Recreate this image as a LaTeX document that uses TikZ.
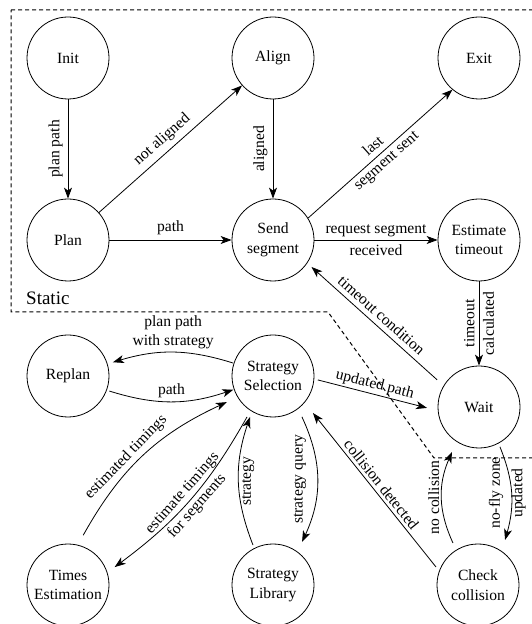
\documentclass[tikz,border=0pt]{standalone}
\usepackage{fontspec}
\setmainfont{Liberation Serif}
\usetikzlibrary{arrows.meta,calc}
\newcommand\labfont{\fontsize{15.6}{19.5}\selectfont}
\newcommand\statfont{\fontsize{19}{22}\selectfont}
\tikzset{
  state/.style={circle, draw, line width=0.8pt, minimum size=82pt, inner sep=0pt,
                align=center, font=\labfont},
  arr/.style={-{Stealth[length=11pt,width=8pt,inset=3pt]}, line width=0.8pt},
  lab/.style={font=\labfont, inner sep=5pt},
  pair/.style={font=\labfont, inner sep=3pt, align=center},
  region/.style={line width=1pt, dash pattern=on 4pt off 3pt},
}
\begin{document}
\begin{tikzpicture}[x=1pt,y=1pt]
\useasboundingbox (0,0) rectangle (532,624);

% static part of the state machine
\begin{scope}
  \clip (0,0) rectangle (532,624);
  \draw[region] (11,614) -- (545,614) -- (545,166) -- (434,166) -- (328,312)
                -- (11,312) -- cycle;
\end{scope}
\node[anchor=base west, font=\statfont, inner sep=0pt] (static) at (26,319) {Static};

% states
\node[state] (init)   at (68,566)  {Init};
\node[state] (align)  at (273,566) {Align};
\node[state] (exit)   at (479,566) {Exit};
\node[state] (plan)   at (68,384)  {Plan};
\node[state] (send)   at (273,384) {Send\\segment};
\node[state] (est)    at (479,384) {Estimate\\timeout};
\node[state] (replan) at (68,248)  {Replan};
\node[state] (ss)     at (273,248) {Strategy\\Selection};
\node[state] (wait)   at (479,217) {Wait};
\node[state] (times)  at (68,39)   {Times\\Estimation};
\node[state] (lib)    at (273,39)  {Strategy\\Library};
\node[state] (cc)     at (478,39)  {Check\\collision};

% transitions
\draw[arr] (init) -- node[lab, rotate=90, anchor=south] {plan path} (plan);
\draw[arr] (plan) -- node[lab, sloped, above] {not aligned} (align);
\draw[arr] (align) -- node[lab, rotate=90, anchor=south] {aligned} (send);
\draw[arr] (plan) -- node[lab, above] {path} (send);
\draw[arr] (send.32) -- node[pair, sloped] {last\\segment sent} (exit.230);
\draw[arr] (send) -- node[pair, text depth=0pt] {request segment\\[2pt]received} (est);
\draw[arr] (est) -- node[pair, rotate=90] {timeout\\calculated} (wait);
\draw[arr] ($(wait)+(147:50)$) -- node[lab, sloped, above] {timeout condition} ($(send)+(-35:47)$);

\draw[arr] ($(ss)+(162:42)$) to[bend right=17]
  node[pair, above] {plan path\\with strategy} ($(replan)+(17:47)$);
\draw[arr] ($(replan)+(-20:44)$) to[bend right=18]
  node[lab, above, inner sep=3pt] {path} ($(ss)+(199:42)$);
\draw[arr] ($(times)+(73:52)$) to[bend left=18]
  node[lab, sloped, above, pos=0.43, inner sep=3pt] {estimated timings} ($(ss)+(209.5:53)$);
\draw[arr] ($(ss)+(237.6:48.5)$) to[bend left=12]
  node[pair, sloped] {estimate timings\\for segments} ($(times)+(21:50)$);
\draw[arr] ($(lib)+(116.6:44.7)$) to[bend left=20]
  node[lab, rotate=90, anchor=north, inner sep=3pt] {strategy} ($(ss)+(240.7:47)$);
\draw[arr] ($(ss)+(-54.7:50)$) to[bend left=25]
  node[lab, rotate=90, anchor=south, inner sep=11pt] {strategy query} ($(lib)+(56:52)$);
\draw[arr] ($(cc)+(156.8:45.7)$) --
  node[lab, sloped, above, inner sep=3pt] {collision detected} ($(ss)+(-42.8:54.5)$);
\draw[arr] ($(ss)+(-5:45)$) --
  node[lab, sloped, above, inner sep=2pt] {updated path} ($(wait)+(181:52)$);
\draw[arr] ($(cc)+(120.8:48.9)$) to[bend left=24]
  node[lab, rotate=90, anchor=south, inner sep=2pt] {no collision} ($(wait)+(239:52.5)$);
\draw[arr] ($(wait)+(-62.3:45)$) to[bend left=19]
  node[pair, rotate=90, yshift=4pt] {no-fly zone\\[3pt]updated} ($(cc)+(59:52.5)$);
\end{tikzpicture}
\end{document}
